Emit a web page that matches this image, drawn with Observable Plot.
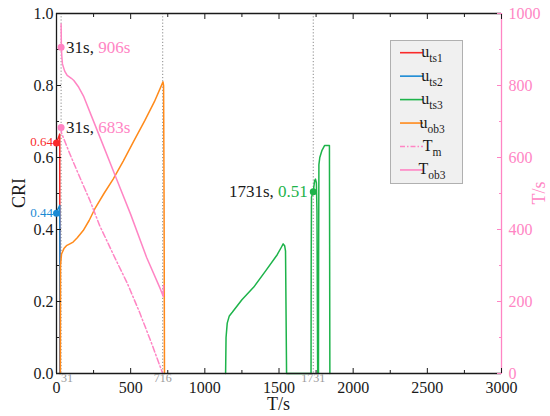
<!DOCTYPE html>
<html><head><meta charset="utf-8">
<script src="https://cdn.jsdelivr.net/npm/d3@7"></script>
<script src="https://cdn.jsdelivr.net/npm/@observablehq/plot@0.6"></script>
<style>body{margin:0;background:#fff} svg, svg text{font-family:"Liberation Serif","Times New Roman","DejaVu Serif",serif !important}</style>
</head><body><div id="chart"></div>
<script>
// ---- data ----
const tTs1 = [0, 22, 22.5];
const uTs1 = [0.64, 0.665, 0];
const tTs2 = [0, 22, 23, 24];
const uTs2 = [0.448, 0.467, 0.30, 0];
const tTs3 = [1140,1143,1151,1165,1185,1250,1330,1410,1488,1515,1528,1538,1544,1550,1551,
              1716,1717,1719,1731,1740,1746,1752,1756,1760,1761,
              1766,1767,1769,1775,1790,1807,1840,1843];
const uTs3 = [0,0.10,0.14,0.16,0.17,0.205,0.24,0.285,0.33,0.35,0.36,0.355,0.34,0.05,0,
              0,0.30,0.49,0.505,0.535,0.54,0.53,0.45,0.05,0,
              0,0.30,0.58,0.60,0.62,0.633,0.633,0];
const tOb3 = [26,27,34,50,67,90,112,140,180,220,258,320,382,450,520,596,660,718,722,725,728];
const uOb3 = [0,0.30,0.332,0.347,0.355,0.36,0.365,0.377,0.397,0.425,0.457,0.50,0.54,0.59,0.645,0.703,0.755,0.81,0.80,0.5,0];
const tTm = [31,34,90,157,225,292,393,478,560,640,716];
const Tm  = [683,668,610,545,481,410,322,250,170,85,0];
const tTob3 = [31,33,36,40,55,72,100,117,150,184,236,300,400,500,607,700,720,721,722];
const Tob3  = [971,906,880,860,840,828,820,814,795,769,715,649,545,442,323,235,214,230,245];
const markT = [0, 0, 31, 31, 1731];
const markV = [0.64, 0.445, 0.906, 0.683, 0.505];
const refT = [31, 716, 1731];
const xTicks = [0, 500, 1000, 1500, 2000, 2500, 3000];
const xMinor = [250, 750, 1250, 1750, 2250, 2750];
const yTicks = [0, 0.2, 0.4, 0.6, 0.8, 1.0];
const yMinor = [0.1, 0.3, 0.5, 0.7, 0.9];
const seriesNames = ["uts1", "uts2", "uts3", "uob3", "Tm", "Tob3"];

const C = {red:"#fa2a2a", blue:"#1a8ad4", green:"#1db34a", orange:"#ff8a1a", pink:"#ff85c4"};
const mk = (ts, vs, s) => ts.map((t, i) => ({t, v: vs[i], s}));
const dTs1 = mk(tTs1, uTs1, "uts1");
const dTs2 = mk(tTs2, uTs2, "uts2");
const dTs3 = mk(tTs3, uTs3, "uts3");
const dOb3 = mk(tOb3, uOb3, "uob3");
const dTm = mk(tTm, Tm, "Tm");
const dTob3 = mk(tTob3, Tob3, "Tob3");
const marks = markT.map((t, i) => ({t, v: markV[i], c: [C.red, C.blue, C.pink, C.pink, C.green][i]}));
const fmtX = d => String(d);
const font = '"Liberation Serif", "Times New Roman", "DejaVu Serif", serif';

const plot = Plot.plot({
  width: 550, height: 416,
  marginLeft: 56, marginRight: 49, marginTop: 13, marginBottom: 43,
  style: {fontFamily: font, fontSize: "15px", color: "#1a1a1a", background: "#fff"},
  x: {domain: [0, 3000], label: null},
  y: {domain: [0, 1], label: null},
  marks: [
    Plot.ruleX(refT, {stroke: "#8a8a8a", strokeDasharray: "1.2,2", strokeWidth: 1}),
    Plot.line(dTs1, {x: "t", y: "v", stroke: C.red, strokeWidth: 1.5}),
    Plot.line(dTs2, {x: "t", y: "v", stroke: C.blue, strokeWidth: 1.5}),
    Plot.line(dTs3, {x: "t", y: "v", stroke: C.green, strokeWidth: 1.5}),
    Plot.line(dOb3, {x: "t", y: "v", stroke: C.orange, strokeWidth: 1.5}),
    Plot.line(dTm, {x: "t", y: d => d.v / 1000, stroke: C.pink, strokeWidth: 1.5, strokeDasharray: "6,2.5,1.5,2.5"}),
    Plot.line(dTob3, {x: "t", y: d => d.v / 1000, stroke: C.pink, strokeWidth: 1.5}),
    // frame
    Plot.ruleY([0, 1], {stroke: "#1a1a1a", strokeWidth: 1.3}),
    Plot.ruleX([0], {stroke: "#1a1a1a", strokeWidth: 1.3}),
    Plot.ruleX([3000], {stroke: C.pink, strokeWidth: 1.3}),
    // ticks
    Plot.axisX(xTicks, {anchor: "bottom", tickSize: -5, tickFormat: () => "", label: null, stroke: "#1a1a1a"}),
    Plot.axisX(xMinor, {anchor: "bottom", tickSize: -3, tickFormat: () => "", label: null, stroke: "#1a1a1a"}),
    Plot.axisX(xTicks, {anchor: "top", tickSize: -5, tickFormat: () => "", label: null, stroke: "#1a1a1a"}),
    Plot.axisX(xMinor, {anchor: "top", tickSize: -3, tickFormat: () => "", label: null, stroke: "#1a1a1a"}),
    Plot.axisY(yTicks, {anchor: "left", tickSize: -5, tickFormat: () => "", label: null, stroke: "#1a1a1a"}),
    Plot.axisY(yMinor, {anchor: "left", tickSize: -3, tickFormat: () => "", label: null, stroke: "#1a1a1a"}),
    Plot.axisY(yTicks, {anchor: "right", tickSize: -5, tickFormat: () => "", label: null, stroke: C.pink}),
    Plot.axisY(yMinor, {anchor: "right", tickSize: -3, tickFormat: () => "", label: null, stroke: C.pink}),
    // tick labels
    Plot.axisX(xTicks, {anchor: "bottom", tickSize: 0, tickPadding: 8, tickFormat: fmtX, label: null, fill: "#1a1a1a", fontSize: 16}),
    Plot.axisY(yTicks, {anchor: "left", tickSize: 0, tickPadding: 3, tickFormat: d3.format(".1f"), label: null, fill: "#1a1a1a", fontSize: 16}),
    Plot.axisY(yTicks, {anchor: "right", tickSize: 0, tickPadding: 7, tickFormat: d => String(Math.round(d * 1000)), label: null, fill: C.pink, fontSize: 16}),
    Plot.text([refT[0]], {x: d => d, text: d => String(d), frameAnchor: "bottom", dy: 8, textAnchor: "start", fill: "#999", fontSize: 12}),
    Plot.text(refT.slice(1), {x: d => d, text: d => String(d), frameAnchor: "bottom", dy: 8, textAnchor: "middle", fill: "#999", fontSize: 12}),
    // markers
    Plot.dot(marks, {x: "t", y: "v", fill: "c", r: 3.5})
  ]
});
document.getElementById("chart").appendChild(plot);

const X = v => plot.scale("x").apply(v);
const Y = v => plot.scale("y").apply(v);
const svg = d3.select(plot);
const g = svg.append("g").style("font-family", font);

// axis titles
g.append("text").attr("transform", `translate(19,${(Y(0) + Y(1)) / 2}) rotate(-90)`)
  .attr("text-anchor", "middle").attr("dy", "0.35em").attr("font-size", 18).attr("fill", "#1a1a1a").text("CRI");
g.append("text").attr("transform", `translate(539,${(Y(0) + Y(1)) / 2}) rotate(-90)`)
  .attr("text-anchor", "middle").attr("dy", "0.35em").attr("font-size", 18).attr("fill", C.pink).text("T/s");
g.append("text").attr("x", (X(0) + X(3000)) / 2).attr("y", 404).attr("dy", "0.35em")
  .attr("text-anchor", "middle").attr("font-size", 18).attr("fill", "#1a1a1a").text("T/s");

// value labels
g.append("text").attr("x", X(0) - 3).attr("y", Y(markV[0]) - 1).attr("dy", "0.35em").attr("text-anchor", "end")
  .attr("font-size", 13).attr("fill", C.red).text("0.64");
g.append("text").attr("x", X(0) - 3).attr("y", Y(markV[1])).attr("dy", "0.35em").attr("text-anchor", "end")
  .attr("font-size", 13).attr("fill", C.blue).text("0.44");
function two(x, y, a, b, col, anchor) {
  const t = g.append("text").attr("x", x).attr("y", y).attr("dy", "0.35em").attr("font-size", 17)
    .attr("text-anchor", anchor);
  t.append("tspan").attr("fill", "#1a1a1a").text(a);
  t.append("tspan").attr("fill", col).text(b);
}
two(X(31) + 5.5, Y(markV[2]), "31s, ", "906s", C.pink, "start");
two(X(31) + 5.5, Y(markV[3]), "31s, ", "683s", C.pink, "start");
two(X(1731) - 5, Y(markV[4]), "1731s, ", "0.51", C.green, "end");

// legend
const lg = g.append("g");
lg.append("rect").attr("x", 390.5).attr("y", 40.5).attr("width", 72).attr("height", 143)
  .attr("fill", "#f0f0f0").attr("stroke", "#b0b0b0");
const legColors = [C.red, C.blue, C.green, C.orange, C.pink, C.pink];
const legDash = [null, null, null, null, "5,2,1.5,2", null];
const legMain = ["u", "u", "u", "u", "T", "T"];
const legSub = ["ts1", "ts2", "ts3", "ob3", "m", "ob3"];
seriesNames.forEach((s, i) => {
  const yy = 52.7 + i * 23.45;
  lg.append("line").attr("x1", 400).attr("x2", 423).attr("y1", yy).attr("y2", yy)
    .attr("stroke", legColors[i]).attr("stroke-width", 1.6).attr("stroke-dasharray", legDash[i]);
  const t = lg.append("text").attr("x", 432).attr("y", yy + 4.5).attr("fill", "#1a1a1a").attr("font-size", 16);
  t.append("tspan").text(legMain[i]);
  t.append("tspan").attr("font-size", 11.5).attr("dy", 5).text(legSub[i]);
});
</script>
</body></html>
